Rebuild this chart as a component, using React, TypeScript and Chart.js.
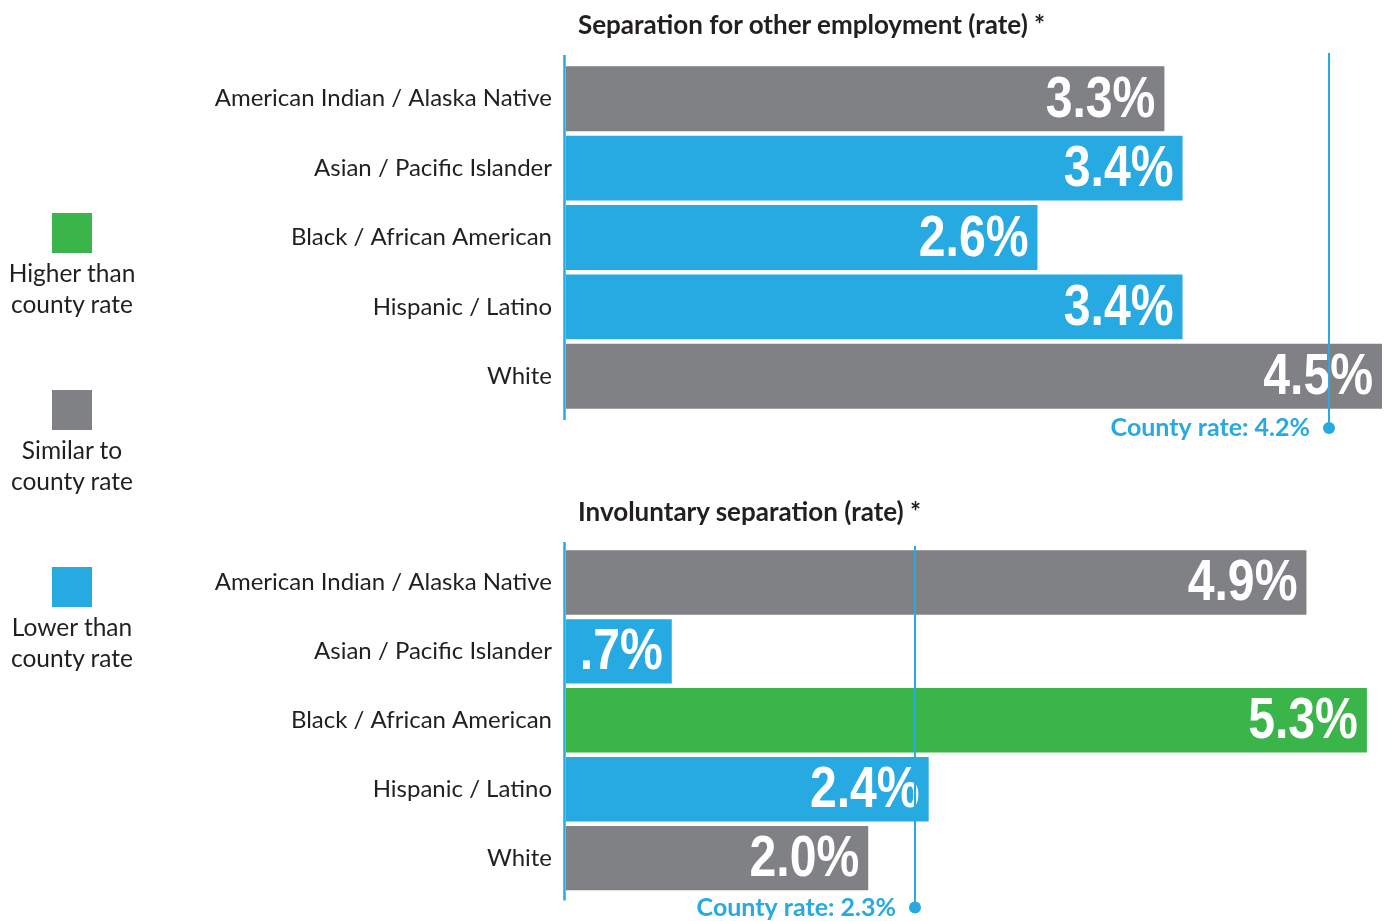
import React, { useEffect, useRef } from "react";
import { Chart, registerables } from "chart.js";

Chart.register(...registerables);

// ---- Data ----
const categories = [
  "American Indian / Alaska Native",
  "Asian / Pacific Islander",
  "Black / African American",
  "Hispanic / Latino",
  "White",
];
const otherEmploymentRates = [3.3, 3.4, 2.6, 3.4, 4.5];
const otherEmploymentStatus = ["similar", "lower", "lower", "lower", "similar"];
const otherEmploymentCounty = 4.2;

const involuntaryRates = [4.9, 0.7, 5.3, 2.4, 2.0];
const involuntaryStatus = ["similar", "lower", "higher", "lower", "similar"];
const involuntaryCounty = 2.3;

const titles = [
  "Separation for other employment (rate) *",
  "Involuntary separation (rate) *",
];
const legendKeys = ["higher", "similar", "lower"];
const legendLabels = [
  ["Higher than", "county rate"],
  ["Similar to", "county rate"],
  ["Lower than", "county rate"],
];

const statusColors: Record<string, string> = {
  higher: "#39b54a",
  similar: "#808184",
  lower: "#27a9e1",
};
const BLUE = "#27a9e1";
const TEXT = "#231f20";
const FONT = "Lato, 'Open Sans', sans-serif";
const VALUE_FONT = "bold 58px 'Liberation Sans', Arial, sans-serif";
const VALUE_SQUEEZE = 0.83;

const fmt = (v: number) => v.toFixed(1).replace(/^0/, "") + "%";

const overlayPlugin = {
  id: "overlay",
  afterDatasetsDraw(chart: any, _args: any, opts: any) {
    const ctx = chart.ctx;
    const area = chart.chartArea;
    const xs = chart.scales.x;
    const meta = chart.getDatasetMeta(0);
    const values: number[] = chart.data.datasets[0].data;
    ctx.save();
    // value labels
    ctx.font = VALUE_FONT;
    ctx.fillStyle = "#ffffff";
    ctx.textAlign = "right";
    ctx.textBaseline = "middle";
    meta.data.forEach((bar: any, i: number) => {
      ctx.save();
      ctx.translate(bar.x - 9, bar.y + 2);
      ctx.scale(VALUE_SQUEEZE, 1);
      ctx.fillText(fmt(values[i]), 0, 0);
      ctx.restore();
    });
    // axis line
    ctx.strokeStyle = BLUE;
    ctx.lineWidth = 2.5;
    ctx.beginPath();
    ctx.moveTo(area.left - 1.5, area.top - opts.axisTop);
    ctx.lineTo(area.left - 1.5, area.bottom + opts.axisBottom);
    ctx.stroke();
    // county rate line
    const cx = Math.round(xs.getPixelForValue(opts.county)) + 1;
    const dotY = area.bottom + opts.lineBottom;
    ctx.lineWidth = 2;
    ctx.beginPath();
    ctx.moveTo(cx, area.top - opts.lineTop);
    ctx.lineTo(cx, dotY);
    ctx.stroke();
    ctx.fillStyle = BLUE;
    ctx.beginPath();
    ctx.arc(cx, dotY, 6, 0, Math.PI * 2);
    ctx.fill();
    ctx.font = `bold 25px ${FONT}`;
    ctx.textAlign = "right";
    ctx.textBaseline = "middle";
    ctx.fillText(`County rate: ${opts.county.toFixed(1)}%`, cx - 19, dotY);
    ctx.restore();
  },
};

function makeConfig(
  values: number[],
  status: string[],
  county: number,
  xMax: number,
  padding: any,
  ext: any
): any {
  return {
    type: "bar",
    data: {
      labels: categories,
      datasets: [
        {
          data: values,
          backgroundColor: status.map((s) => statusColors[s]),
          borderWidth: 0,
          categoryPercentage: 1,
          barPercentage: 0.935,
        },
      ],
    },
    options: {
      indexAxis: "y",
      responsive: false,
      animation: false,
      layout: { padding },
      scales: {
        x: { display: false, min: 0, max: xMax },
        y: {
          grid: { display: false, drawTicks: false },
          border: { display: false },
          ticks: {
            color: TEXT,
            font: { family: FONT, size: 24 },
            padding: 14,
            autoSkip: false,
          },
          afterFit: (s: any) => {
            s.width = 566;
          },
        },
      },
      plugins: {
        legend: { display: false },
        tooltip: { enabled: false },
        overlay: { county, ...ext },
      },
    },
    plugins: [overlayPlugin],
  };
}

export default function App() {
  const topRef = useRef<HTMLCanvasElement>(null);
  const botRef = useRef<HTMLCanvasElement>(null);

  useEffect(() => {
    const c1 = new Chart(
      topRef.current!,
      makeConfig(
        otherEmploymentRates,
        otherEmploymentStatus,
        otherEmploymentCounty,
        4.5,
        { left: 0, right: 6, top: 64, bottom: 49 },
        { axisTop: 9, axisBottom: 9, lineTop: 11, lineBottom: 17 }
      )
    );
    const c2 = new Chart(
      botRef.current!,
      makeConfig(
        involuntaryRates,
        involuntaryStatus,
        involuntaryCounty,
        5.4,
        { left: 0, right: 6, top: 88, bottom: 26 },
        { axisTop: 6, axisBottom: 8, lineTop: 2, lineBottom: 15 }
      )
    );
    return () => {
      c1.destroy();
      c2.destroy();
    };
  }, []);

  const legendTops = [213, 390, 567];

  return (
    <div
      style={{
        position: "absolute",
        left: 0,
        top: 0,
        width: 1388,
        height: 921,
        background: "#ffffff",
        overflow: "hidden",
        fontFamily: FONT,
        color: TEXT,
      }}
    >
      <canvas
        ref={topRef}
        width={1388}
        height={460}
        style={{ position: "absolute", left: 0, top: 0, width: 1388, height: 460 }}
      />
      <canvas
        ref={botRef}
        width={1388}
        height={461}
        style={{ position: "absolute", left: 0, top: 460, width: 1388, height: 461 }}
      />
      {titles.map((t, i) => (
        <div
          key={t}
          style={{
            position: "absolute",
            left: 578,
            top: i === 0 ? 9 : 496,
            fontSize: 26,
            fontWeight: 700,
            lineHeight: "30px",
            whiteSpace: "nowrap",
          }}
        >
          {t}
        </div>
      ))}
      {legendKeys.map((k, i) => (
        <div key={k}>
          <div
            style={{
              position: "absolute",
              left: 52,
              top: legendTops[i],
              width: 40,
              height: 40,
              background: statusColors[k],
            }}
          />
          <div
            style={{
              position: "absolute",
              left: 0,
              width: 144,
              top: legendTops[i] + 44,
              textAlign: "center",
              fontSize: 24.5,
              lineHeight: "31px",
            }}
          >
            {legendLabels[i].map((l) => (
              <div key={l}>{l}</div>
            ))}
          </div>
        </div>
      ))}
    </div>
  );
}
